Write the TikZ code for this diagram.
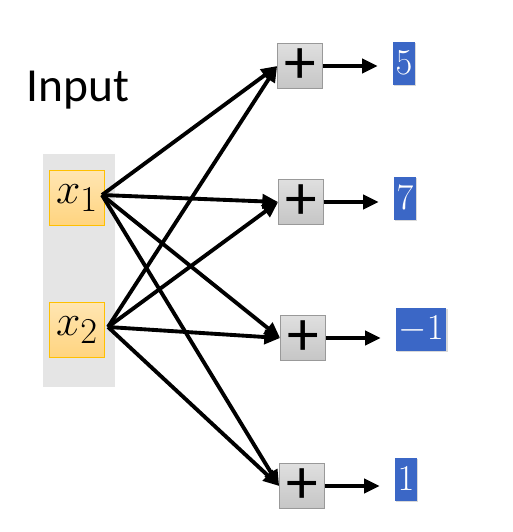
\documentclass[tikz,border=0pt]{standalone}
\usepackage{fontspec}
\setmainfont{Carlito}
\usepackage{tikz}
\usetikzlibrary{arrows.meta, positioning, shadows}

\definecolor{inorange}{HTML}{FFD47F}
\definecolor{inborder}{HTML}{FFC000}
\definecolor{outblue}{HTML}{3B67C6}

\begin{document}
\begin{tikzpicture}[
    x=0.02cm, y=-0.02cm,
    every node/.style={font=\small},
    inbox/.style={draw=inborder, top color=inorange!60, bottom color=inorange,
      minimum width=1.1cm, minimum height=1.1cm, inner sep=0pt,
      font=\fontsize{30}{30}\selectfont},
    sumbox/.style={draw=gray!80, top color=gray!25, bottom color=gray!45,
      minimum width=0.9cm, minimum height=0.9cm, inner sep=0pt,
      font=\fontsize{36}{36}\selectfont},
    outbox/.style={fill=outblue, text=white, minimum height=0.86cm,
      inner xsep=1.5pt, inner ysep=0pt,
      drop shadow={opacity=0.3, shadow xshift=0.8pt, shadow yshift=-0.8pt},
      font=\fontsize{20}{20}\selectfont},
    conn/.style={line width=2.2pt, -{Triangle[length=9pt, width=8pt]}},
  ]
  \useasboundingbox (0,0) rectangle (513,532);
  \fill[gray!20] (43,154) rectangle (115,387);

  \node (inp) at (78,90) {\fontsize{27}{27}\selectfont Input};
  \node[inbox] (x1) at (77,198) {$x_1$};
  \node[inbox] (x2) at (77,330) {$x_2$};
  \coordinate (s1) at (102,195);
  \coordinate (s2) at (108,327);

  % sums and outputs
  \node[sumbox] (p1) at (300,66) {+};
  \node[sumbox] (p2) at (301,202) {+};
  \node[sumbox] (p3) at (303,338) {+};
  \node[sumbox] (p4) at (302,486) {+};

  \node[outbox] (o1) at (404,63) {$5$};
  \node[outbox] (o2) at (405,198) {$7$};
  \node[outbox] (o3) at (421,329) {$-1$};
  \node[outbox] (o4) at (406,479) {$1$};

  \foreach \i in {1,...,4} {
    \draw[conn] (s1) -- (p\i.west);
    \draw[conn] (s2) -- (p\i.west);
    \draw[conn] (p\i.east) -- ++(55,0);
  }
\end{tikzpicture}
\end{document}
